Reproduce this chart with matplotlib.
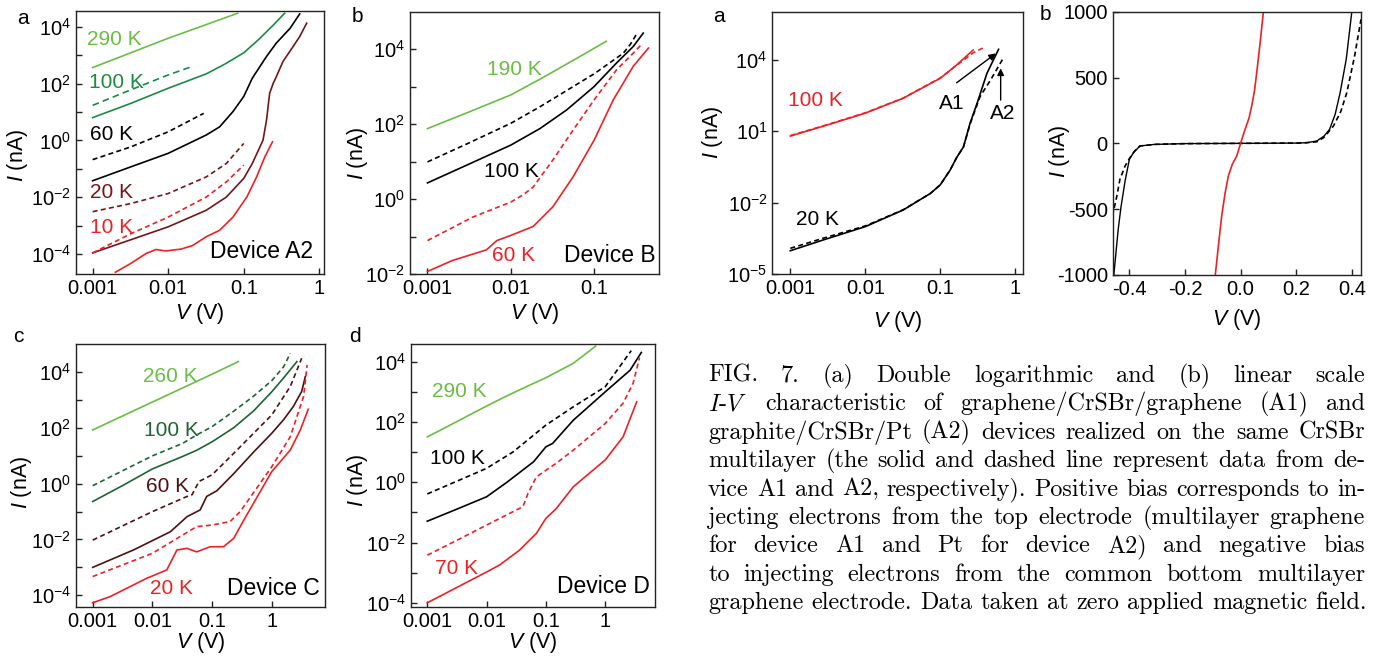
import matplotlib
matplotlib.use('Agg')
import matplotlib.pyplot as plt
from matplotlib.ticker import FixedLocator, FixedFormatter, NullLocator

plt.rcParams['font.family'] = 'Liberation Sans'
plt.rcParams['mathtext.fontset'] = 'custom'
plt.rcParams['mathtext.rm'] = 'Liberation Sans'
plt.rcParams['mathtext.it'] = 'Liberation Sans:italic'
plt.rcParams['axes.linewidth'] = 1.0
plt.rcParams['axes.edgecolor'] = '#222222'

# ---- Device A2 (panel a) ----
a_290_v = [0.001, 0.01, 0.083]
a_290_i = [363, 3900, 29500]
a_100d_v = [0.001, 0.003, 0.01, 0.0204]
a_100d_i = [17, 56, 200, 390]
a_100_v = [0.001, 0.0032, 0.01, 0.032, 0.056, 0.1, 0.158, 0.245, 0.347]
a_100_i = [6.3, 20, 68, 219, 479, 1200, 3550, 11200, 29500]
a_60d_v = [0.001, 0.0032, 0.01, 0.0295]
a_60d_i = [0.21, 0.59, 2.0, 8.9]
a_60_v = [0.001, 0.0032, 0.01, 0.032, 0.048, 0.072, 0.1, 0.13, 0.2, 0.27, 0.41, 0.55]
a_60_i = [0.038, 0.117, 0.35, 1.55, 3.0, 10.3, 35, 155, 890, 2650, 8700, 28000]
a_20d_v = [0.001, 0.0032, 0.01, 0.032, 0.059, 0.1]
a_20d_i = [0.0031, 0.006, 0.0135, 0.052, 0.155, 0.78]
a_10d_v = [0.001, 0.0032, 0.01, 0.032, 0.059, 0.1]
a_10d_i = [1.1e-4, 5.2e-4, 2.0e-3, 0.0102, 0.035, 0.135]
a_20_v = [0.001, 0.0032, 0.01, 0.032, 0.059, 0.1, 0.13, 0.18, 0.2, 0.22, 0.245,
          0.27, 0.33, 0.45, 0.55, 0.68]
a_20_i = [1.1e-4, 3.2e-4, 9.1e-4, 3.5e-3, 0.0102, 0.046, 0.155, 1.02, 5.1, 45,
          100, 174, 590, 2000, 4470, 13200]
a_10_v = [0.002, 0.0032, 0.0051, 0.0069, 0.0093, 0.0148, 0.021, 0.032, 0.048,
          0.072, 0.11, 0.148, 0.19, 0.24]
a_10_i = [2.3e-5, 4.7e-5, 1.05e-4, 1.45e-4, 1.29e-4, 1.5e-4, 2.0e-4, 4.1e-4,
          6.9e-4, 2.0e-3, 0.0102, 0.052, 0.26, 0.89]

# ---- Device B ----
b_190_v = [0.001, 0.0032, 0.01, 0.0224, 0.056, 0.14]
b_190_i = [76, 214, 600, 1580, 5000, 16200]
b_100d_v = [0.001, 0.0032, 0.01, 0.0224, 0.056, 0.1, 0.224, 0.27, 0.32]
b_100d_i = [9.8, 32, 105, 290, 1000, 2190, 7760, 13000, 24000]
b_100_v = [0.001, 0.0032, 0.01, 0.0224, 0.047, 0.1, 0.186, 0.295, 0.39]
b_100_i = [2.7, 8.7, 27.5, 76, 240, 1000, 4270, 11700, 26900]
b_60d_v = [0.001, 0.0035, 0.01, 0.0141, 0.0186, 0.032, 0.056, 0.1, 0.186, 0.295, 0.37]
b_60d_i = [0.078, 0.33, 0.83, 1.3, 2.1, 11, 69, 440, 2800, 7800, 13200]
b_60_v = [0.001, 0.002, 0.0051, 0.0068, 0.01, 0.0186, 0.032, 0.056, 0.1, 0.17,
          0.295, 0.45]
b_60_i = [0.0117, 0.023, 0.044, 0.078, 0.107, 0.186, 0.62, 3.9, 37, 440, 3470,
          10700]

# ---- Device C ----
c_260_v = [0.001, 0.01, 0.1, 0.275]
c_260_i = [85, 850, 8500, 24000]
c_100d_v = [0.001, 0.0032, 0.01, 0.032, 0.055, 0.1, 0.23, 0.5, 1.0, 1.58, 2.04]
c_100d_i = [0.85, 2.95, 10, 28, 56, 112, 400, 1410, 5000, 15800, 48000]
c_100_v = [0.001, 0.0032, 0.01, 0.032, 0.055, 0.1, 0.23, 0.5, 1.0, 1.58, 2.63]
c_100_i = [0.23, 0.87, 3.4, 9.5, 15.8, 32, 102, 417, 2000, 6300, 24000]
c_60d_v = [0.001, 0.01, 0.038, 0.046, 0.06, 0.1, 0.23, 1.0, 2.04, 3.16]
c_60d_i = [0.0095, 0.1, 0.35, 0.40, 1.2, 2.1, 12.3, 295, 3100, 31600]
c_60_v = [0.001, 0.0048, 0.02, 0.038, 0.063, 0.081, 0.12, 0.23, 0.5, 1.0, 1.58,
          2.29, 3.16, 3.63]
c_60_i = [0.001, 0.0042, 0.019, 0.066, 0.115, 0.35, 0.56, 2.3, 14, 65, 200, 590,
          2040, 6900]
c_20d_v = [0.001, 0.01, 0.055, 0.1, 0.2, 0.295, 1.0, 2.04, 3.4, 3.9]
c_20d_i = [4.7e-4, 3.2e-3, 0.029, 0.033, 0.044, 0.1, 4.1, 49, 1350, 18200]
c_20_v = [0.001, 0.00195, 0.0081, 0.0174, 0.0257, 0.038, 0.055, 0.093, 0.155,
          0.23, 0.34, 1.0, 2.04, 3.0, 4.07]
c_20_i = [5.4e-5, 8.9e-5, 4.1e-4, 8.1e-4, 4.2e-3, 4.8e-3, 3.6e-3, 5.5e-3,
          5.5e-3, 0.011, 0.05, 2.75, 16.2, 85, 470]

# ---- Device D ----
d_290_v = [0.001, 0.0032, 0.01, 0.022, 0.05, 0.1, 0.29, 0.69]
d_290_i = [32, 105, 340, 740, 1580, 2950, 8900, 33000]
d_100d_v = [0.001, 0.0032, 0.01, 0.028, 0.1, 0.29, 1.0, 2.75]
d_100d_i = [0.41, 1.1, 2.9, 10.2, 79, 320, 1480, 23400]
d_100_v = [0.001, 0.0032, 0.01, 0.022, 0.062, 0.1, 0.13, 0.29, 1.0, 2.63, 4.07]
d_100_i = [0.051, 0.13, 0.33, 1.0, 4.8, 15, 19.5, 115, 1000, 5250, 20400]
d_70d_v = [0.001, 0.0032, 0.01, 0.041, 0.05, 0.069, 0.1, 0.15, 0.29, 1.0, 2.0,
           2.95, 3.8]
d_70d_i = [0.0038, 0.012, 0.038, 0.155, 0.43, 1.5, 2.5, 4.3, 11.7, 89, 420,
           1900, 13800]
d_70_v = [0.001, 0.01, 0.0166, 0.036, 0.069, 0.1, 0.15, 0.29, 1.0, 2.0, 3.4]
d_70_i = [1e-4, 1.05e-3, 1.8e-3, 5.6e-3, 0.02, 0.063, 0.135, 0.71, 5.5, 32, 470]

# ---- Fig. 7a: A1 (solid) vs A2 (dashed), log-log ----
f7a_100_v = [0.001, 0.0032, 0.01, 0.032, 0.1, 0.166, 0.275]
f7a_100_i = [6.3, 19, 58, 245, 1700, 6200, 26300]
f7a_100d_v = [0.001, 0.0032, 0.01, 0.032, 0.1, 0.166, 0.275, 0.38]
f7a_100d_i = [6.6, 19.5, 60, 250, 1750, 6000, 20000, 33000]
f7a_20_v = [0.001, 0.00275, 0.01, 0.032, 0.074, 0.1, 0.135, 0.166, 0.204, 0.25,
            0.31, 0.42, 0.6]
f7a_20_i = [9.5e-5, 2.7e-4, 9.8e-4, 4.9e-3, 0.0245, 0.056, 0.23, 0.8, 2.2, 22,
            150, 2750, 28000]
f7a_20d_v = [0.001, 0.00275, 0.01, 0.032, 0.074, 0.1, 0.135, 0.166, 0.204, 0.25,
             0.34, 0.47, 0.69]
f7a_20d_i = [1.2e-4, 3.2e-4, 1.05e-3, 5e-3, 0.0245, 0.056, 0.23, 0.8, 2.2, 20,
             290, 1450, 11700]

# ---- Fig. 7b: linear scale ----
f7b_red_v = [-0.091, -0.08, -0.068, -0.056, -0.044, -0.03, -0.014, 0.0, 0.016,
             0.03, 0.04, 0.05, 0.058, 0.07, 0.082]
f7b_red_i = [-1000, -780, -552, -380, -248, -160, -96, 0, 106, 190, 284, 400,
             537, 760, 1000]
f7b_a1_v = [-0.456, -0.44, -0.43, -0.415, -0.40, -0.385, -0.362, -0.31, -0.2,
            0.0, 0.2, 0.238, 0.274, 0.30, 0.32, 0.34, 0.358, 0.38, 0.40]
f7b_a1_i = [-1000, -650, -480, -280, -122, -70, -20, -8, -2, 0, 2, 5, 18, 55,
            106, 220, 385, 640, 1000]
f7b_a2_v = [-0.461, -0.445, -0.434, -0.415, -0.398, -0.38, -0.362, -0.31, -0.2,
            0.0, 0.2, 0.238, 0.274, 0.30, 0.334, 0.36, 0.382, 0.41, 0.433]
f7b_a2_i = [-552, -400, -273, -170, -109, -55, -20, -8, -2, 0, 2, 5, 12, 45,
            132, 240, 385, 663, 942]

caption_lines = [
    "FIG. 7.  (a) Double logarithmic and (b) linear scale",
    "$I$-$V$ characteristic of graphene/CrSBr/graphene (A1) and",
    "graphite/CrSBr/Pt (A2) devices realized on the same CrSBr",
    "multilayer (the solid and dashed line represent data from de-",
    "vice A1 and A2, respectively). Positive bias corresponds to in-",
    "jecting electrons from the top electrode (multilayer graphene",
    "for device A1 and Pt for device A2) and negative bias",
    "to injecting electrons from the common bottom multilayer",
    "graphene electrode. Data taken at zero applied magnetic field.",
]

LGREEN = '#6abd45'
GREEN = '#1b8a42'
DGREEN = '#1f6433'
DRED = '#731619'
BROWN = '#4d1111'
RED = '#ee2024'
DASH = (0, (3.0, 2.0))
LW = 1.2
FS = 15

W, H = 1385, 656
fig = plt.figure(figsize=(W / 100, H / 100), dpi=100)


def box(l, t, r, b):
    return fig.add_axes([l / W, 1 - b / H, (r - l) / W, (b - t) / H])


def exp_label(e):
    return r'$\mathregular{10^{%d}}$' % e


def log_axes(ax, xlim, ylim, xt, xl, yexp, ylab_exp, xlab_y, ylab_x, ylab_y):
    ax.set_xscale('log')
    ax.set_yscale('log')
    ax.set_xlim(*xlim)
    ax.set_ylim(*ylim)
    ax.xaxis.set_major_locator(FixedLocator(xt))
    ax.xaxis.set_major_formatter(FixedFormatter(xl))
    ax.yaxis.set_major_locator(FixedLocator([10.0 ** e for e in yexp]))
    ax.yaxis.set_major_formatter(FixedFormatter(
        [exp_label(e) if e in ylab_exp else '' for e in yexp]))
    ax.xaxis.set_minor_locator(NullLocator())
    ax.yaxis.set_minor_locator(NullLocator())
    finish(ax, xlab_y, ylab_x, ylab_y)


def finish(ax, xlab_y, ylab_x, ylab_y):
    ax.tick_params(direction='in', length=4, width=1, labelsize=14.5,
                   color='#222222')
    ax.set_xlabel('$V$ (V)', fontsize=15.5)
    ax.set_ylabel('$I$ (nA)', fontsize=15.5)
    ax.xaxis.set_label_coords(0.5, xlab_y)
    ax.yaxis.set_label_coords(ylab_x, ylab_y)


def note(ax, x, y, s, color='black', ha='left', size=FS):
    ax.text(x, y, s, transform=ax.transAxes, color=color, fontsize=size,
            ha=ha, va='center')


def device(ax, x, y, s):
    note(ax, x, y, s, ha='right', size=16.5)


dec = [0.001, 0.01, 0.1, 1]
dec_lab = ['0.001', '0.01', '0.1', '1']

# panel a: Device A2
ax = box(76, 11, 324.3, 274)
ax.plot(a_290_v, a_290_i, color=LGREEN, lw=LW)
ax.plot(a_100d_v, a_100d_i, color=GREEN, lw=LW, ls=(0, (4, 2.5)))
ax.plot(a_100_v, a_100_i, color=GREEN, lw=LW)
ax.plot(a_60d_v, a_60d_i, color='black', lw=LW, ls=DASH)
ax.plot(a_60_v, a_60_i, color='black', lw=LW)
ax.plot(a_20d_v, a_20d_i, color=DRED, lw=LW, ls=DASH)
ax.plot(a_20_v, a_20_i, color=DRED, lw=LW)
ax.plot(a_10d_v, a_10d_i, color=RED, lw=LW, ls=DASH)
ax.plot(a_10_v, a_10_i, color=RED, lw=LW)
log_axes(ax, (10 ** -3.22, 10 ** 0.066), (10 ** -4.70, 10 ** 4.55), dec, dec_lab,
         range(-4, 5), (-4, -2, 0, 2, 4), -0.103, -0.185, 0.45)
note(ax, 0.044, 0.893, '290 K', LGREEN)
note(ax, 0.052, 0.73, '100 K', GREEN)
note(ax, 0.056, 0.53, '60 K')
note(ax, 0.056, 0.31, '20 K', DRED)
note(ax, 0.056, 0.175, '10 K', RED)
device(ax, 0.955, 0.084, 'Device A2')

# panel b: Device B
ax = box(410, 11.7, 659, 274)
ax.plot(b_190_v, b_190_i, color=LGREEN, lw=LW)
ax.plot(b_100d_v, b_100d_i, color='black', lw=LW, ls=DASH)
ax.plot(b_100_v, b_100_i, color='black', lw=LW)
ax.plot(b_60d_v, b_60d_i, color=RED, lw=LW, ls=DASH)
ax.plot(b_60_v, b_60_i, color=RED, lw=LW)
log_axes(ax, (10 ** -3.21, 10 ** -0.22), (1e-2, 1e5), dec[:3], dec_lab[:3],
         range(-2, 5), (-2, 0, 2, 4), -0.103, -0.161, 0.46)
note(ax, 0.31, 0.78, '190 K', LGREEN)
note(ax, 0.298, 0.39, '100 K')
note(ax, 0.33, 0.072, '60 K', RED)
device(ax, 0.988, 0.072, 'Device B')

# panel c: Device C
ax = box(76, 344.3, 325, 606.7)
ax.plot(c_260_v, c_260_i, color=LGREEN, lw=LW)
ax.plot(c_100d_v, c_100d_i, color=DGREEN, lw=LW, ls=DASH)
ax.plot(c_100_v, c_100_i, color=DGREEN, lw=LW)
ax.plot(c_60d_v, c_60d_i, color=BROWN, lw=LW, ls=DASH)
ax.plot(c_60_v, c_60_i, color=BROWN, lw=LW)
ax.plot(c_20d_v, c_20d_i, color=RED, lw=LW, ls=DASH)
ax.plot(c_20_v, c_20_i, color=RED, lw=LW)
log_axes(ax, (10 ** -3.28, 10 ** 0.89), (10 ** -4.41, 1e5), dec, dec_lab,
         range(-4, 5), (-4, -2, 0, 2, 4), -0.089, -0.169, 0.473)
note(ax, 0.27, 0.879, '260 K', LGREEN)
note(ax, 0.273, 0.673, '100 K', DGREEN)
note(ax, 0.282, 0.457, '60 K', BROWN)
note(ax, 0.297, 0.07, '20 K', RED)
device(ax, 0.98, 0.071, 'Device C')

# panel d: Device D
ax = box(410.7, 344.3, 655, 606.7)
ax.plot(d_290_v, d_290_i, color=LGREEN, lw=LW)
ax.plot(d_100d_v, d_100d_i, color='black', lw=LW, ls=DASH)
ax.plot(d_100_v, d_100_i, color='black', lw=LW)
ax.plot(d_70d_v, d_70d_i, color=RED, lw=LW, ls=DASH)
ax.plot(d_70_v, d_70_i, color=RED, lw=LW)
log_axes(ax, (10 ** -3.28, 10 ** 0.84), (10 ** -4.13, 10 ** 4.58), dec, dec_lab,
         range(-4, 5), (-4, -2, 0, 2, 4), -0.089, -0.167, 0.48)
note(ax, 0.086, 0.822, '290 K', LGREEN)
note(ax, 0.079, 0.565, '100 K')
note(ax, 0.10, 0.146, '70 K', RED)
device(ax, 0.98, 0.076, 'Device D')

# Fig. 7a: A1 / A2 comparison, log-log
ax = box(772.3, 11.7, 1022.7, 274)
ax.plot(f7a_100d_v, f7a_100d_i, color=RED, lw=LW, ls=DASH)
ax.plot(f7a_100_v, f7a_100_i, color=RED, lw=LW)
ax.plot(f7a_20d_v, f7a_20d_i, color='black', lw=LW, ls=DASH)
ax.plot(f7a_20_v, f7a_20_i, color='black', lw=LW)
log_axes(ax, (10 ** -3.24, 10 ** 0.1), (1e-5, 10 ** 6.03), dec, dec_lab,
         (-5, -2, 1, 4), (-5, -2, 1, 4), -0.134, -0.189, 0.54)
note(ax, 0.064, 0.663, '100 K', RED)
note(ax, 0.095, 0.206, '20 K')
ax.annotate('', xy=(0.893, 0.841), xytext=(0.736, 0.729), xycoords='axes fraction',
            arrowprops=dict(arrowstyle='-|>', color='black', lw=1.0,
                            mutation_scale=10, shrinkA=0, shrinkB=0))
ax.annotate('', xy=(0.912, 0.784), xytext=(0.912, 0.663), xycoords='axes fraction',
            arrowprops=dict(arrowstyle='-|>', color='black', lw=1.0,
                            mutation_scale=10, shrinkA=0, shrinkB=0))
ax.text(0.716, 0.651, 'A1', transform=ax.transAxes, fontsize=FS, ha='center', va='center')
ax.text(0.919, 0.613, 'A2', transform=ax.transAxes, fontsize=FS, ha='center', va='center')

# Fig. 7b: linear scale
ax = box(1112.7, 11.7, 1361, 275)
ax.plot(f7b_a1_v, f7b_a1_i, color='black', lw=1.0)
ax.plot(f7b_a2_v, f7b_a2_i, color='black', lw=LW, ls=DASH)
ax.plot(f7b_red_v, f7b_red_i, color=RED, lw=LW)
ax.set_xlim(-0.46, 0.433)
ax.set_ylim(-1000, 1000)
ax.set_xticks([-0.4, -0.2, 0.0, 0.2, 0.4])
ax.set_xticklabels(['-0.4', '-0.2', '0.0', '0.2', '0.4'])
ax.set_yticks([-1000, -500, 0, 500, 1000])
ax.set_yticklabels(['-1000', '-500', '0', '500', '1000'])
finish(ax, -0.122, -0.164, 0.47)

# panel letters
for x, y, s in [(23, 18, 'a'), (357, 17, 'b'), (18, 337, 'c'), (355, 337, 'd'),
                (719, 17, 'a'), (1045, 15, 'b')]:
    fig.text(x / W, 1 - y / H, s, fontsize=15, ha='center', va='center')

# justified caption set in Computer Modern
r = fig.canvas.get_renderer()
x0, x1 = 708, 1365
probe = fig.text(0, 0, caption_lines[-1], fontsize=16, family='cmr10')
cap_fs = 16 * (x1 - x0) / probe.get_window_extent(r).width
probe.remove()
for k, line in enumerate(caption_lines):
    words = line.split()
    y = 1 - (382 + k * 28.4) / H
    items = [fig.text(0, y, w, fontsize=cap_fs, family='cmr10',
                      math_fontfamily='cm', va='baseline') for w in words]
    widths = [t.get_window_extent(r).width for t in items]
    if k == len(caption_lines) - 1:
        gap = 0.333 * cap_fs * 100 / 72
    else:
        gap = (x1 - x0 - sum(widths)) / (len(words) - 1)
    x = x0
    for t, w in zip(items, widths):
        t.set_x(x / W)
        x += w + gap

fig.savefig('out.png', dpi=100)
